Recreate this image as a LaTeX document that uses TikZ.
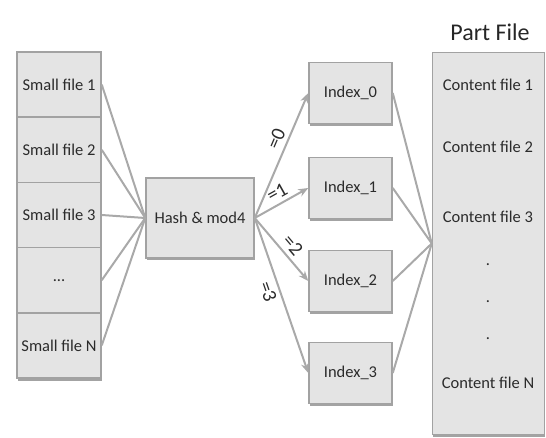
\documentclass[tikz,border=0pt]{standalone}
\usepackage{fontspec}
\setmainfont{Carlito}
\usetikzlibrary{arrows.meta,shadows,positioning}
\definecolor{boxfill}{HTML}{E4E4E4}
\definecolor{boxline}{HTML}{A2A2A2}
\definecolor{wire}{HTML}{A9A9A9}
\definecolor{shade}{HTML}{8C8C8C}
\definecolor{txt}{HTML}{2B2B2B}

\begin{document}
\begin{tikzpicture}[x=1pt,y=-1pt,
  box/.style={draw=boxline, fill=boxfill, line width=1.5pt, inner sep=0pt, text=txt,
    font=\fontsize{16.5}{18}\selectfont,
    drop shadow={shadow xshift=0.5pt, shadow yshift=-2.5pt, fill=shade, opacity=0.8}},
  cell/.style={box, minimum width=84pt, minimum height=65.2pt},
  idx/.style={box, minimum width=83pt, minimum height=61pt},
  link/.style={draw=wire, line width=2pt},
  arr/.style={link, -{Stealth[length=10pt,width=8pt]}},
  lbl/.style={text=txt, font=\fontsize{20}{20}\selectfont, sloped, inner sep=0pt},
  content/.style={text=txt, font=\fontsize{16.5}{18}\selectfont}]
\useasboundingbox (0,0) rectangle (546,438);

% small files
\node[cell] (s1) at (59,84.6) {Small file 1};
\node[cell] (s2) at (59,149.8) {Small file 2};
\node[cell] (s3) at (59,215) {Small file 3};
\node[cell] (s4) at (59,280.2) {...};
\node[cell] (sn) at (59,345.4) {Small file N};

% hash
\node[box, minimum width=108pt, minimum height=80pt] (hash) at (200,218) {Hash \& mod4};

% index files
\node[idx] (i0) at (350.5,93) {Index\_0};
\node[idx] (i1) at (350.5,188) {Index\_1};
\node[idx] (i2) at (350.5,281) {Index\_2};
\node[idx] (i3) at (350.5,373) {Index\_3};

% part file
\node[box, minimum width=112pt, minimum height=382pt] (part) at (488.5,243.5) {};
\node[text=black!85, font=\fontsize{24}{26}\selectfont] (title) at (490,32) {Part File};
\node[content] (c1) at (488,85) {Content file 1};
\node[content] (c2) at (488,147) {Content file 2};
\node[content] (c3) at (488,217) {Content file 3};
\node[content] (d1) at (488,265) {.};
\node[content] (d2) at (488,302) {.};
\node[content] (d3) at (488,339) {.};
\node[content] (cn) at (488,383) {Content file N};

% connectors
\draw[link] (s1.east) -- (hash.west);
\draw[link] (s2.east) -- (hash.west);
\draw[link] (s3.east) -- (hash.west);
\draw[link] (s4.east) -- (hash.west);
\draw[link] (sn.east) -- (hash.west);

\draw[arr] (hash.east) -- node[lbl, pos=0.6, above=4pt] {=0} (i0.west);
\draw[arr] (hash.east) -- node[lbl, pos=0.52, above=4pt] {=1} (i1.west);
\draw[arr] (hash.east) -- node[lbl, pos=0.55, above=4pt] {=2} (i2.west);
\draw[arr] (hash.east) -- node[lbl, pos=0.45, below=4pt] {=3} (i3.west);

\draw[link] (i0.east) -- (part.west);
\draw[link] (i1.east) -- (part.west);
\draw[link] (i2.east) -- (part.west);
\draw[link] (i3.east) -- (part.west);
\end{tikzpicture}
\end{document}
